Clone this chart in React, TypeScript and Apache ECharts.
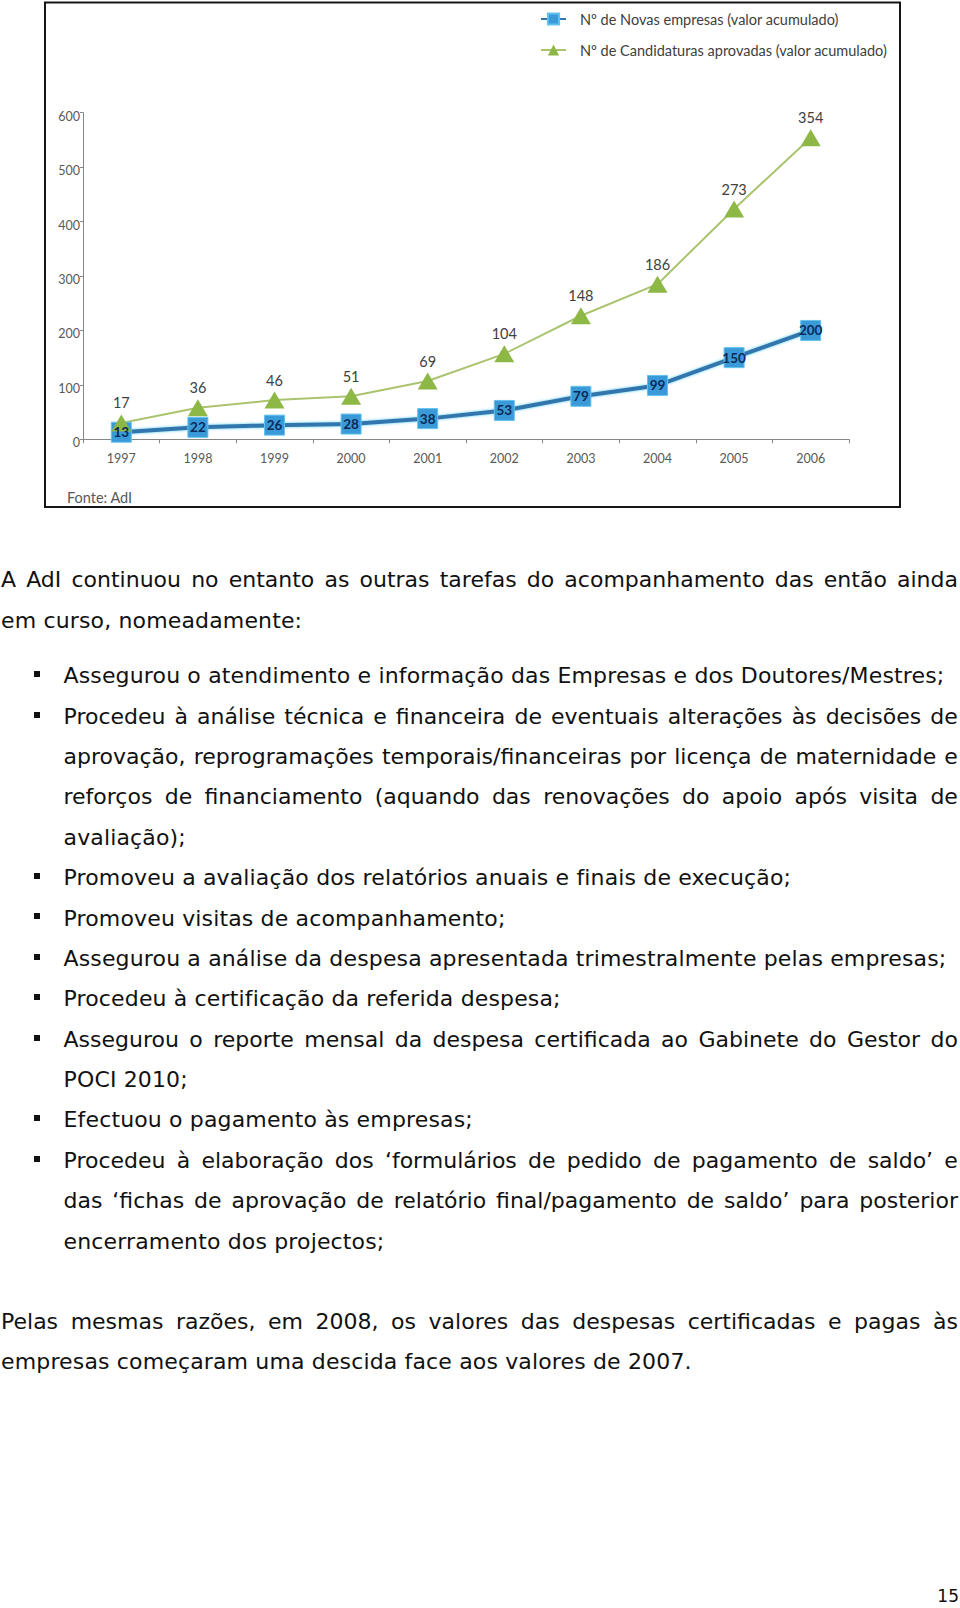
import React, { useEffect, useRef } from 'react';
import * as echarts from 'echarts';

// ---- chart data ----
const years = ['1997', '1998', '1999', '2000', '2001', '2002', '2003', '2004', '2005', '2006'];
const novasEmpresas = [13, 22, 26, 28, 38, 53, 79, 99, 150, 200];
const candidaturasAprovadas = [17, 36, 46, 51, 69, 104, 148, 186, 273, 354];
const seriesNames = [
  'Nº de Novas empresas (valor acumulado)',
  'Nº de Candidaturas aprovadas (valor acumulado)',
];
const yMin = 0;
const yMax = 600;
const yStep = 100;
const sourceNote = 'Fonte: AdI';

// ---- page text ----
type TextLine = { text: string; left: number; baseline: number; justify: boolean; bullet?: boolean };
const P = 1; // paragraph indent
const B = 63.5; // bullet text indent
const bs = 684;
const st = 40.37;
const bodyLines: TextLine[] = [
  { text: 'A AdI continuou no entanto as outras tarefas do acompanhamento das então ainda', left: P, baseline: 587.7, justify: true },
  { text: 'em curso, nomeadamente:', left: P, baseline: 628.3, justify: false },
  { text: 'Assegurou o atendimento e informação das Empresas e dos Doutores/Mestres;', left: B, baseline: bs, justify: false, bullet: true },
  { text: 'Procedeu à análise técnica e financeira de eventuais alterações às decisões de', left: B, baseline: bs + st * 1, justify: true, bullet: true },
  { text: 'aprovação, reprogramações temporais/financeiras por licença de maternidade e', left: B, baseline: bs + st * 2, justify: true },
  { text: 'reforços de financiamento (aquando das renovações do apoio após visita de', left: B, baseline: bs + st * 3, justify: true },
  { text: 'avaliação);', left: B, baseline: bs + st * 4, justify: false },
  { text: 'Promoveu a avaliação dos relatórios anuais e finais de execução;', left: B, baseline: bs + st * 5, justify: false, bullet: true },
  { text: 'Promoveu visitas de acompanhamento;', left: B, baseline: bs + st * 6, justify: false, bullet: true },
  { text: 'Assegurou a análise da despesa apresentada trimestralmente pelas empresas;', left: B, baseline: bs + st * 7, justify: false, bullet: true },
  { text: 'Procedeu à certificação da referida despesa;', left: B, baseline: bs + st * 8, justify: false, bullet: true },
  { text: 'Assegurou o reporte mensal da despesa certificada ao Gabinete do Gestor do', left: B, baseline: bs + st * 9, justify: true, bullet: true },
  { text: 'POCI 2010;', left: B, baseline: bs + st * 10, justify: false },
  { text: 'Efectuou o pagamento às empresas;', left: B, baseline: bs + st * 11, justify: false, bullet: true },
  { text: 'Procedeu à elaboração dos ‘formulários de pedido de pagamento de saldo’  e', left: B, baseline: bs + st * 12, justify: true, bullet: true },
  { text: 'das ‘fichas de aprovação de relatório final/pagamento de saldo’ para posterior', left: B, baseline: bs + st * 13, justify: true },
  { text: 'encerramento dos projectos;', left: B, baseline: bs + st * 14, justify: false },
  { text: 'Pelas mesmas razões, em 2008, os valores das despesas certificadas e pagas às', left: P, baseline: 1330, justify: true },
  { text: 'empresas começaram uma descida face aos valores de 2007.', left: P, baseline: 1370, justify: false },
];
const pageNumber = '15';

const CHART_FONT = 'Lato, "Open Sans", sans-serif';
const BODY_FONT = '"DejaVu Sans", Verdana, sans-serif';
const BODY_SIZE = 22;
const LINE_BOX = 26;
const BASE_OFF = (LINE_BOX - BODY_SIZE * 1.164) / 2 + BODY_SIZE * 0.928;
const RIGHT_EDGE = 958;

const CHART_W = 960;
const CHART_H = 515;
const AXIS_Y = 439.3;

function Chart() {
  const ref = useRef<HTMLDivElement>(null);
  useEffect(() => {
    if (!ref.current) return;
    const chart = echarts.init(ref.current, null, { renderer: 'svg' });
    chart.setOption({
      animation: false,
      backgroundColor: '#ffffff',
      textStyle: { fontFamily: CHART_FONT },
      legend: {
        orient: 'vertical',
        left: 535,
        top: 6.5,
        itemWidth: 25,
        itemHeight: 14,
        itemGap: 16,
        selectedMode: false,
        textStyle: {
          fontFamily: CHART_FONT,
          fontSize: 14.5,
          lineHeight: 14,
          color: '#404040',
          padding: [0, 0, 0, 9],
        },
        data: seriesNames,
      },
      grid: { left: 83, right: CHART_W - 849, top: 112.7, bottom: CHART_H - AXIS_Y, containLabel: false },
      xAxis: {
        type: 'category',
        data: years,
        boundaryGap: true,
        axisLine: { lineStyle: { color: '#868686', width: 1 } },
        axisTick: { show: true, length: 4, lineStyle: { color: '#868686' } },
        axisLabel: { color: '#595959', fontSize: 12.5, margin: 12.5, fontFamily: CHART_FONT },
        splitLine: { show: false },
      },
      yAxis: {
        type: 'value',
        min: yMin,
        max: yMax,
        interval: yStep,
        axisLine: { show: true, lineStyle: { color: '#868686', width: 1 } },
        axisTick: { show: true, length: 3, lineStyle: { color: '#868686' } },
        axisLabel: {
          color: '#595959',
          fontSize: 12.5,
          margin: 3,
          verticalAlign: 'top',
          lineHeight: 7,
          fontFamily: CHART_FONT,
        },
        splitLine: { show: false },
      },
      series: [
        {
          name: seriesNames[0],
          type: 'line',
          stack: 'total',
          data: novasEmpresas,
          symbol: 'rect',
          symbolSize: 20,
          itemStyle: { color: '#3a9ad8', borderColor: '#62c2ee', borderWidth: 1 },
          lineStyle: { color: '#3276ad', width: 4, shadowColor: 'rgba(80,200,240,0.9)', shadowBlur: 3 },
          label: {
            show: true,
            position: 'inside',
            color: '#0b2a58',
            fontWeight: 'bold',
            fontSize: 13.5,
            fontFamily: CHART_FONT,
          },
          z: 2,
        },
        {
          name: seriesNames[1],
          type: 'line',
          stack: 'total',
          data: candidaturasAprovadas,
          symbol: 'triangle',
          symbolSize: [20, 17],
          itemStyle: { color: '#8db846' },
          lineStyle: { color: '#aac36e', width: 2 },
          label: {
            show: true,
            position: 'top',
            distance: 4,
            color: '#404040',
            fontSize: 14.5,
            fontFamily: CHART_FONT,
          },
          z: 2,
        },
      ],
      graphic: [
        {
          type: 'rect',
          shape: { x: 45, y: 2.5, width: 855, height: 504.5 },
          style: { fill: 'none', stroke: '#161616', lineWidth: 2 },
          silent: true,
        },
        {
          type: 'text',
          x: 67,
          y: 497,
          style: {
            text: sourceNote,
            fontFamily: CHART_FONT,
            fontSize: 14.5,
            fill: '#595959',
            verticalAlign: 'middle',
          },
          silent: true,
        },
      ],
    });
    return () => chart.dispose();
  }, []);
  return <div ref={ref} style={{ position: 'absolute', left: 0, top: 0, width: CHART_W, height: CHART_H }} />;
}

function BodyLine({ line }: { line: TextLine }) {
  const words = line.text.split(/\s+/);
  const common: React.CSSProperties = {
    position: 'absolute',
    left: line.left,
    top: line.baseline - BASE_OFF,
    height: LINE_BOX,
    lineHeight: LINE_BOX + 'px',
    fontFamily: BODY_FONT,
    fontSize: BODY_SIZE,
    color: '#111',
    whiteSpace: 'nowrap',
  };
  return (
    <>
      {line.bullet && (
        <div
          style={{
            position: 'absolute',
            left: 34,
            top: line.baseline - 12.8,
            width: 6,
            height: 6,
            background: '#111',
          }}
        />
      )}
      {line.justify ? (
        <div
          style={{
            ...common,
            width: RIGHT_EDGE - line.left,
            display: 'flex',
            justifyContent: 'space-between',
          }}
        >
          {words.map((w, i) => (
            <span key={i}>{i < words.length - 1 ? w + ' ' : w}</span>
          ))}
        </div>
      ) : (
        <div style={{ ...common, letterSpacing: '0.15px' }}>{line.text}</div>
      )}
    </>
  );
}

export default function App() {
  return (
    <div
      style={{
        position: 'absolute',
        left: 0,
        top: 0,
        width: 960,
        height: 1608,
        overflow: 'hidden',
        background: '#ffffff',
      }}
    >
      <Chart />
      {bodyLines.map((l, i) => (
        <BodyLine key={i} line={l} />
      ))}
      <div
        style={{
          position: 'absolute',
          right: 1,
          top: 1602 - (LINE_BOX - 17 * 1.164) / 2 - 17 * 0.928,
          height: LINE_BOX,
          lineHeight: LINE_BOX + 'px',
          fontFamily: BODY_FONT,
          fontSize: 17,
          color: '#111',
        }}
      >
        {pageNumber}
      </div>
    </div>
  );
}
